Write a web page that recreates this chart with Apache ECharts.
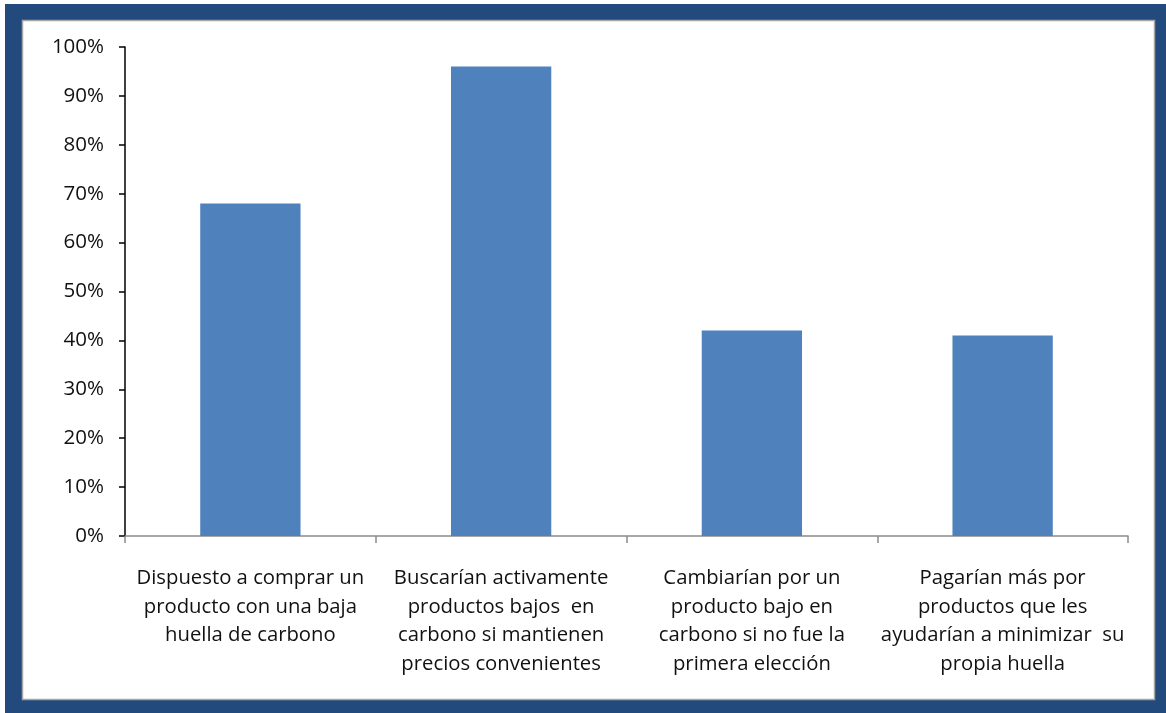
<!DOCTYPE html>
<html>
<head>
<meta charset="utf-8">
<script src="https://cdn.jsdelivr.net/npm/echarts@6/dist/echarts.min.js"></script>
<style>
  html, body { margin: 0; padding: 0; background: #ffffff; }
  #chart { width: 1166px; height: 713px; }
</style>
</head>
<body>
<div id="chart"></div>
<script>
// Survey: share of consumers by attitude toward low-carbon products
const categories = [
  'Dispuesto a comprar un\nproducto con una baja\nhuella de carbono',
  'Buscarían activamente\nproductos bajos  en\ncarbono si mantienen\nprecios convenientes',
  'Cambiarían por un\nproducto bajo en\ncarbono si no fue la\nprimera elección',
  'Pagarían más por\nproductos que les\nayudarían a minimizar  su\npropia huella'
];
const values = [68, 96, 42, 41];
const yTicks = [0, 10, 20, 30, 40, 50, 60, 70, 80, 90, 100];

const FONT = '"Open Sans", Lato, sans-serif';
const chart = echarts.init(document.getElementById('chart'), null, { renderer: 'canvas' });

chart.setOption({
  animation: false,
  backgroundColor: '#ffffff',
  graphic: [
    { type: 'rect', z: -10, shape: { x: 5, y: 4, width: 1161, height: 709 }, style: { fill: '#224a7c' } },
    { type: 'rect', z: -9, shape: { x: 22.5, y: 20.5, width: 1132, height: 679 }, style: { fill: '#ffffff', stroke: '#a6a6a6', lineWidth: 1.5 } }
  ],
  grid: { left: 125, right: 38, top: 47, bottom: 177 },
  xAxis: {
    type: 'category',
    data: categories,
    axisLine: { lineStyle: { color: '#8c8c8c', width: 1.5 } },
    axisTick: { show: true, length: 7, lineStyle: { color: '#8c8c8c', width: 1.5 } },
    axisLabel: {
      interval: 0, margin: 28, color: '#111111', fontFamily: FONT, fontSize: 20.3, lineHeight: 28.5, align: 'center'
    }
  },
  yAxis: {
    type: 'value',
    min: yTicks[0], max: yTicks[yTicks.length - 1], interval: 10,
    axisLine: { show: true, lineStyle: { color: '#000000', width: 1.5 } },
    axisTick: { show: true, length: 6, lineStyle: { color: '#000000', width: 1.5 } },
    splitLine: { show: false },
    axisLabel: { margin: 21, color: '#111111', fontFamily: FONT, fontSize: 20.5, formatter: v => v + '%' }
  },
  series: [{
    type: 'bar',
    data: values,
    barWidth: '40%',
    itemStyle: { color: '#4f81bd' }
  }]
});
</script>
</body>
</html>
